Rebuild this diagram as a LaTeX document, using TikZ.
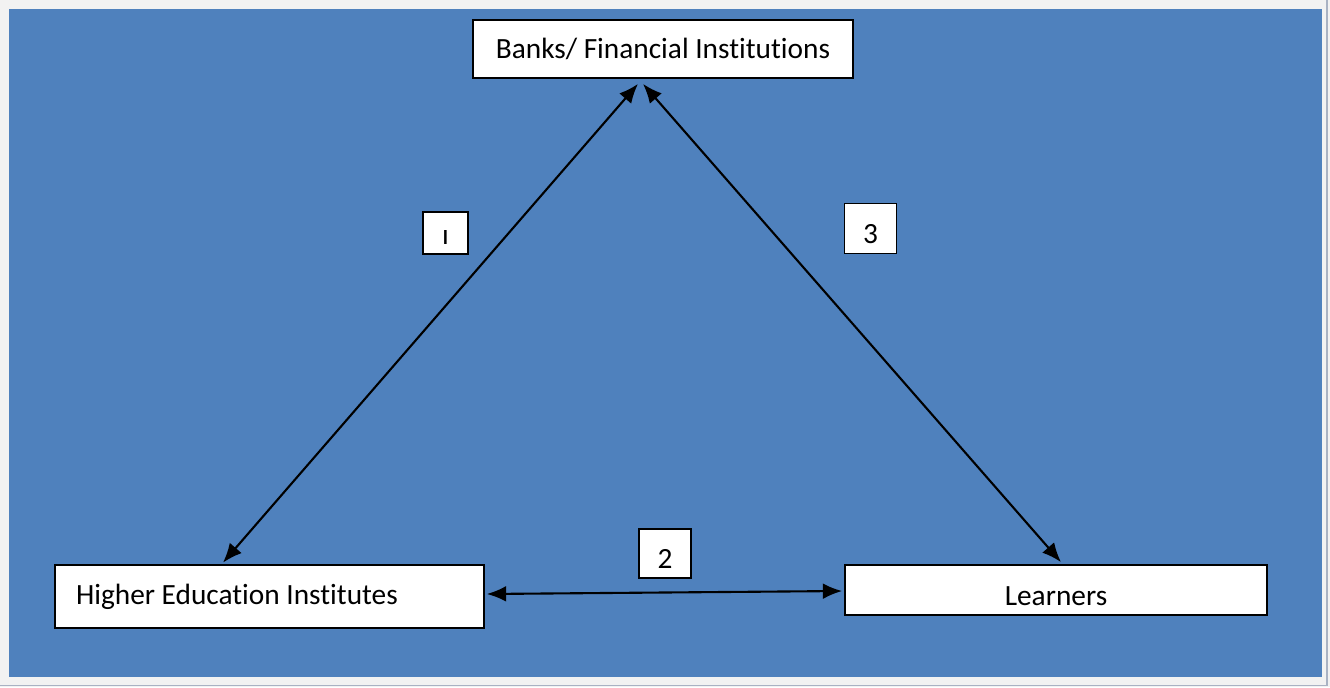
\documentclass[tikz,border=0pt]{standalone}
\usepackage{fontspec}
\setmainfont{Carlito}[Ligatures=NoCommon]
\usetikzlibrary{arrows.meta,calc}
\definecolor{panelblue}{HTML}{4F81BD}
\definecolor{framegray}{HTML}{F2F2F2}
\definecolor{edgegray}{HTML}{A9B2C3}

\tikzset{
  box/.style={draw=black, line width=1pt, fill=white, inner sep=0pt,
    font=\fontsize{16.7}{20}\selectfont},
  tag/.style={box, minimum width=1.04cm, minimum height=1cm,
    text height=0.6cm, text depth=0cm},
  link/.style={line width=1.2pt,
    {Latex[length=11pt,width=9pt]}-{Latex[length=11pt,width=9pt]}}
}

\begin{document}
\begin{tikzpicture}[x=0.02cm, y=-0.02cm]
  % frame and blue panel
  \fill[framegray] (0,0) rectangle (1330,687);
  \useasboundingbox (0,0) rectangle (1330,687);
  \fill[panelblue] (9,9) rectangle (1322,677);
  \draw[edgegray, line width=0.6pt] (1327,0) -- (1327,685.5) -- (0,685.5);

  % the three parties
  \node[box, minimum width=7.6cm, minimum height=1.16cm] (banks) at (663,49) {Banks/ Financial Institutions};
  \node[box, minimum width=8.58cm, minimum height=1.26cm] (hei) at (269.5,596.5) {\makebox[7.74cm][l]{Higher Education Institutes}};
  \node[box, minimum width=8.44cm, minimum height=1cm, text height=0.6cm, text depth=0cm] (learn) at (1056,590) {Learners};

  % numbered links
  \node[tag, minimum width=0.9cm, minimum height=0.84cm, text height=0.45cm] (t1) at (445.5,233) {ı};
  \node[tag, minimum height=0.98cm] (t2) at (665,553.5) {2};
  \node[tag] (t3) at (870.5,228.5) {3};

  \draw[link] ($(banks.south)+(-25,5)$) -- ($(hei.north)+(-46.5,-1.5)$);
  \draw[link] ($(banks.south)+(-20,5)$) -- ($(learn.north)+(5,-2)$);
  \draw[link] ($(hei.east)+(2,-2.5)$) -- ($(learn.west)+(-2,1)$);
\end{tikzpicture}
\end{document}
